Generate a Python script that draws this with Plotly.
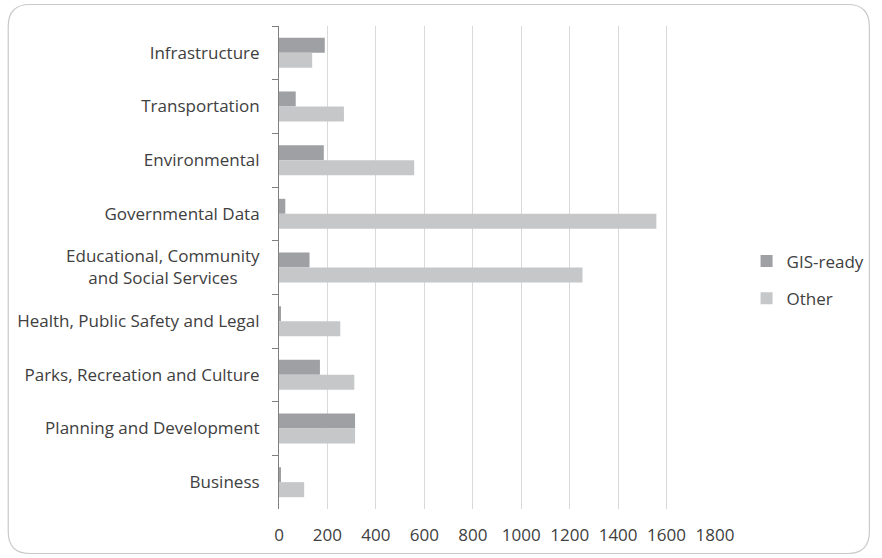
import plotly.graph_objects as go

categories = [
    "Infrastructure",
    "Transportation",
    "Environmental",
    "Governmental Data",
    "Educational, Community<br>and Social Services&nbsp;&nbsp;&nbsp;&nbsp;&nbsp;",
    "Health, Public Safety and Legal",
    "Parks, Recreation and Culture",
    "Planning and Development",
    "Business",
]
gis_ready = [189, 69, 185, 26, 126, 8, 169, 314, 5]
other = [137, 268, 558, 1558, 1253, 253, 311, 314, 104]
x_ticks = [0, 200, 400, 600, 800, 1000, 1200, 1400, 1600, 1800]

W, H = 882, 558
L, R, T, B = 279, 161, 26, 49
PW, PH = W - L - R, H - T - B

FONT = "Open Sans"
FS = 17
TXT = "#404040"

fig = go.Figure()
fig.add_trace(go.Bar(y=categories, x=gis_ready, orientation="h", name="GIS-ready",
                     marker=dict(color="#9fa0a3", line=dict(width=0)), legendgroup="a"))
fig.add_trace(go.Bar(y=categories, x=other, orientation="h", name="Other",
                     marker=dict(color="#c6c7c9", line=dict(width=0)), legendgroup="b"))


def px(x):
    return (x - L) / PW


def py(y):
    return (H - B - y) / PH


# rounded chart border
x0, y0, x1, y1, r = 4.5, 4.5, 877.5, 553.5, 22
path = (
    f"M {px(x0 + r)},{py(y0)} L {px(x1 - r)},{py(y0)} "
    f"Q {px(x1)},{py(y0)} {px(x1)},{py(y0 + r)} "
    f"L {px(x1)},{py(y1 - r)} Q {px(x1)},{py(y1)} {px(x1 - r)},{py(y1)} "
    f"L {px(x0 + r)},{py(y1)} Q {px(x0)},{py(y1)} {px(x0)},{py(y1 - r)} "
    f"L {px(x0)},{py(y0 + r)} Q {px(x0)},{py(y0)} {px(x0 + r)},{py(y0)} Z"
)
fig.add_shape(type="path", path=path, xref="paper", yref="paper",
              line=dict(color="#c9c9c9", width=1.2), layer="below")

fig.update_layout(
    width=W, height=H,
    margin=dict(l=L, r=R, t=T, b=B, pad=0),
    paper_bgcolor="white", plot_bgcolor="white",
    barmode="group", bargap=0.44, bargroupgap=0,
    font=dict(family=FONT, size=FS, color=TXT),
    showlegend=True,
    legend=dict(x=px(753), y=py(280), xanchor="left", yanchor="middle",
                traceorder="grouped", tracegroupgap=12,
                font=dict(family=FONT, size=FS, color=TXT),
                bgcolor="rgba(0,0,0,0)"),
    xaxis=dict(range=[0, 1800], tickvals=x_ticks, showgrid=True, gridcolor="#d9d9d9",
               gridwidth=1, zeroline=False, showline=False, ticks="outside",
               ticklen=11, tickcolor="rgba(0,0,0,0)",
               tickfont=dict(family=FONT, size=FS, color=TXT)),
    yaxis=dict(type="category", autorange="reversed", tickson="boundaries",
               ticks="outside", ticklen=6, tickcolor="#7f7f7f", tickwidth=1,
               showline=True, linecolor="#7f7f7f", linewidth=1, showgrid=False,
               zeroline=False, ticklabelstandoff=15,
               tickfont=dict(family=FONT, size=FS, color=TXT)),
)

fig.write_html("out.html")
